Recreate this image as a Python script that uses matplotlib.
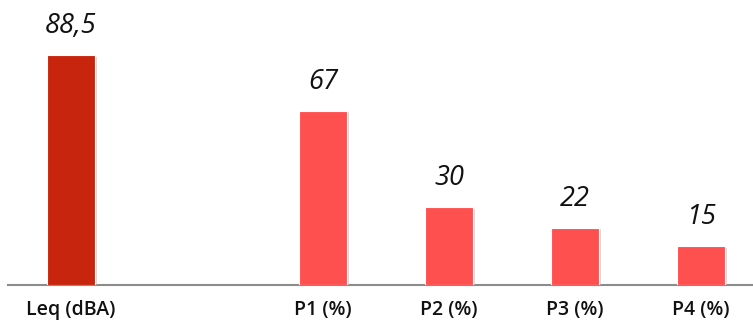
import numpy as np
import matplotlib
matplotlib.use("Agg")
import matplotlib.pyplot as plt
import matplotlib.patheffects as pe
from matplotlib import font_manager as fm

categories = ["Leq (dBA)", "", "P1 (%)", "P2 (%)", "P3 (%)", "P4 (%)"]
values = [88.5, np.nan, 67, 30, 22, 15]
colors = ["#C8250E", "#FF5050", "#FF5050", "#FF5050", "#FF5050", "#FF5050"]


def pick_font(name, style, weights, size):
    cands = [f for f in fm.fontManager.ttflist
             if f.name == name and f.style == style
             and str(f.stretch) in ("normal", "500", "medium")
             and "ondensed" not in f.fname]
    for w in weights:
        for f in cands:
            if f.weight == w or str(f.weight) == str(w):
                return fm.FontProperties(fname=f.fname, size=size)
    if cands:
        return fm.FontProperties(fname=cands[0].fname, size=size)
    return fm.FontProperties(family="DejaVu Sans", style=style, size=size)


val_font = pick_font("Open Sans", "italic", [400, "normal", "regular"], 19.5)
tick_font = pick_font("Open Sans", "normal", [600, "semibold", 700, "bold"], 14)

fig = plt.figure(figsize=(7.53, 3.2), dpi=100)
ax = fig.add_axes([8 / 753, 35 / 320, 1 - 8 / 753, 285 / 320])

x = np.arange(len(categories))
for xi, v, c in zip(x, values, colors):
    if np.isnan(v):
        continue
    bars = ax.bar(xi, v, width=0.38, color=c, edgecolor="white", linewidth=0.8, zorder=3)
    for b in bars:
        b.set_path_effects([pe.SimplePatchShadow(offset=(1.2, -1.2), shadow_rgbFace="#bbbbbb", alpha=0.6), pe.Normal()])
    ax.annotate(f"{v:g}".replace(".", ","), (xi, v), xytext=(0, 10.5), textcoords="offset points",
                ha="center", va="bottom", fontproperties=val_font, color="#111111")

ax.set_xlim(-0.5, (753 - 8) / 126 - 0.5)
ax.set_ylim(0, 285 / 2.6)
ax.set_xticks(x)
ax.set_xticklabels(categories, fontproperties=tick_font, color="#111111")
ax.tick_params(axis="x", length=0, pad=10.5)
ax.set_yticks([])
for s in ["top", "right", "left"]:
    ax.spines[s].set_visible(False)
ax.spines["bottom"].set_color("#8c8c8c")
ax.spines["bottom"].set_linewidth(1.5)
ax.patch.set_alpha(0)

fig.savefig("out.png", dpi=100)
